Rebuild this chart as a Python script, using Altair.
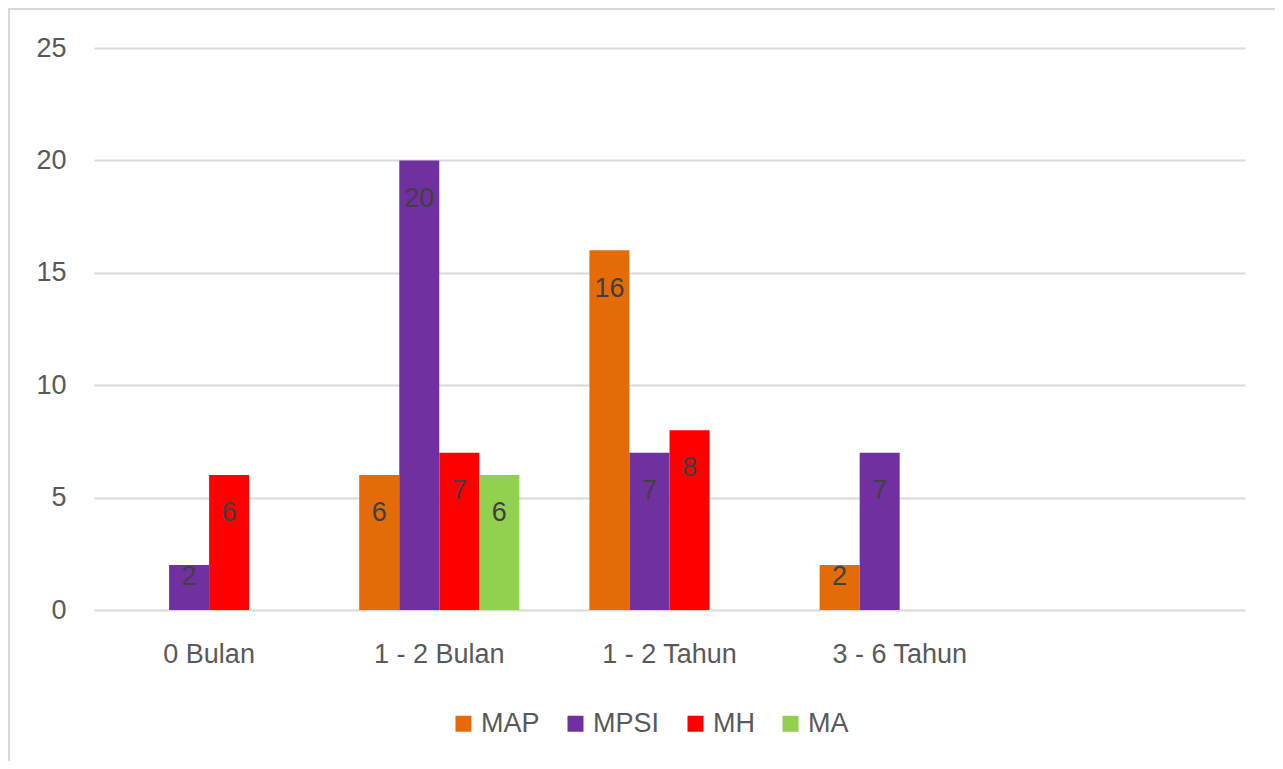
import altair as alt
import pandas as pd

categories = ["0 Bulan", "1 - 2 Bulan", "1 - 2 Tahun", "3 - 6 Tahun", " "]
series = ["MAP", "MPSI", "MH", "MA"]
colors = ["#E36C09", "#7030A0", "#FF0000", "#92D050"]

MAP = [None, 6, 16, 2, None]
MPSI = [2, 20, 7, 7, None]
MH = [6, 7, 8, None, None]
MA = [None, 6, None, None, None]

rows = []
for s, vals in zip(series, [MAP, MPSI, MH, MA]):
    for c, v in zip(categories, vals):
        if v is not None:
            rows.append({"cat": c, "series": s, "value": v})
df = pd.DataFrame(rows)

FONT = "Liberation Sans"
W, H = 1151, 562

x_scale = alt.Scale(domain=categories, paddingInner=0.304, paddingOuter=0.152)
x_enc = alt.X("cat:N", scale=x_scale,
              axis=alt.Axis(title=None, labelAngle=0, ticks=False, domain=False, grid=False,
                            labelFont=FONT, labelFontSize=27, labelColor="#595959", labelPadding=31))
xoff = alt.XOffset("series:N", scale=alt.Scale(domain=series, paddingInner=0, paddingOuter=0))
y_scale = alt.Scale(domain=[0, 25])

bars = alt.Chart(df).mark_bar(size=40).encode(
    x=x_enc,
    xOffset=xoff,
    y=alt.Y("value:Q", scale=y_scale,
            axis=alt.Axis(title=None, values=[0, 5, 10, 15, 20, 25], ticks=False, domain=False,
                          gridColor="#d9d9d9", gridWidth=2, labelFont=FONT, labelFontSize=27,
                          labelColor="#595959", labelPadding=28)),
    color=alt.Color("series:N", scale=alt.Scale(domain=series, range=colors),
                    legend=alt.Legend(title=None, orient="none", direction="horizontal",
                                      legendX=356, legendY=662, symbolType="square",
                                      symbolSize=256, symbolStrokeWidth=0, labelFont=FONT,
                                      labelFontSize=27, labelColor="#595959", labelOffset=4,
                                      columnPadding=22)),
)

labels = alt.Chart(df).transform_calculate(
    ly="datum.value < 3 ? datum.value - 0.55 : datum.value - 1.7"
).mark_text(font=FONT, fontSize=27, color="#404040", baseline="middle").encode(
    x=alt.X("cat:N", scale=x_scale),
    xOffset=xoff,
    y=alt.Y("ly:Q", scale=y_scale),
    text=alt.Text("value:Q"),
)

border = alt.Chart(pd.DataFrame({"a": [0]})).mark_rect(
    fill=None, stroke="#d9d9d9", strokeWidth=2
).encode(x=alt.value(-85), x2=alt.value(1187), y=alt.value(-39), y2=alt.value(760))

chart = alt.layer(border, bars, labels).properties(
    width=W, height=H,
    autosize=alt.AutoSizeParams(type="none"),
    padding={"left": 86, "top": 40, "right": 30, "bottom": 151},
).configure(background="white").configure_view(stroke=None, strokeWidth=0)

chart.save("out.html", embed_options={"renderer": "svg", "actions": False})
